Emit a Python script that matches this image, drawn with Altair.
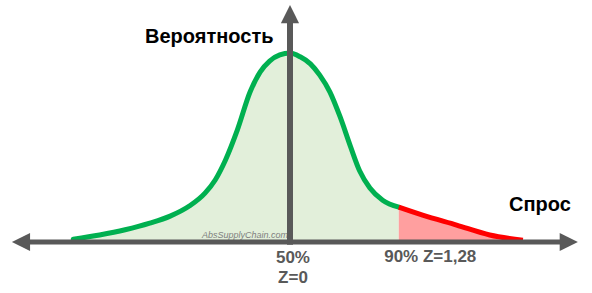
import altair as alt
import pandas as pd

# Curve: Z-score vs relative probability density
z_vals = [-2.55, -2.24, -1.94, -1.65, -1.41, -1.18, -1.00, -0.88, -0.76, -0.62,
          -0.47, -0.35, -0.24, -0.12, 0.0, 0.12, 0.24, 0.35, 0.47, 0.59,
          0.71, 0.82, 0.94, 1.09, 1.28, 1.56, 1.96, 2.35, 2.74]
dens = [0.006, 0.015, 0.026, 0.040, 0.055, 0.077, 0.104, 0.132, 0.174, 0.238,
        0.319, 0.362, 0.385, 0.398, 0.402, 0.394, 0.379, 0.355, 0.319, 0.266,
        0.204, 0.151, 0.115, 0.089, 0.074, 0.057, 0.036, 0.015, 0.004]
z_cut = 1.28

# Annotations
label_text = ["Вероятность", "Спрос", "50%", "Z=0", "90% Z=1,28"]
label_z = [-0.95, 2.94, 0.035, 0.035, 1.65]
label_v = [0.436, 0.079, -0.034, -0.077, -0.032]
label_size = [20, 20, 17, 17, 17]
label_color = ["#000000", "#000000", "#595959", "#595959", "#595959"]

df = pd.DataFrame({"z": z_vals, "v": dens})
df_green = df[df.z <= z_cut]
df_red = df[df.z >= z_cut]

xs = alt.Scale(domain=[-290 / 85, 302 / 85], nice=False, zero=False)
ys = alt.Scale(domain=[-51 / 470, 242 / 470], nice=False, zero=False)
X = lambda f="z": alt.X(f"{f}:Q", scale=xs, axis=None)
Y = lambda f="v": alt.Y(f"{f}:Q", scale=ys, axis=None)

AX = "#595959"

green_area = alt.Chart(df_green).mark_area(color="#E2EFDA", opacity=1, interpolate="monotone").encode(
    x=X(), y=Y(), y2=alt.datum(0))
red_area = alt.Chart(df_red).mark_area(color="#FF9F9F", opacity=1, interpolate="monotone").encode(
    x=X(), y=Y(), y2=alt.datum(0))
green_line = alt.Chart(df_green).mark_line(color="#00B050", strokeWidth=5,
                                          interpolate="monotone", strokeCap="round").encode(x=X(), y=Y())
red_line = alt.Chart(df_red).mark_line(color="#FF0000", strokeWidth=5,
                                      interpolate="monotone", strokeCap="butt").encode(x=X(), y=Y())

h_axis = alt.Chart(pd.DataFrame({"a": [-3.06], "b": [3.2], "y": [0.0]})).mark_rule(
    color=AX, strokeWidth=5).encode(x=X("a"), x2="b", y=Y("y"))
v_axis = alt.Chart(pd.DataFrame({"x": [0.0], "a": [-0.006], "b": [0.468]})).mark_rule(
    color=AX, strokeWidth=6).encode(x=X("x"), y=Y("a"), y2="b")

arrows = pd.DataFrame({
    "x": [-3.165, 3.28, 0.0],
    "y": [0.0, 0.0, 0.485],
    "shape": ["M-1,0L1,-1L1,1Z", "M1,0L-1,-1L-1,1Z", "M0,-1L-1,1L1,1Z"],
})
arrow_marks = alt.Chart(arrows).mark_point(filled=True, opacity=1, color=AX, size=330, strokeWidth=0).encode(
    x=X("x"), y=Y("y"), shape=alt.Shape("shape:N", scale=None))

lab = pd.DataFrame({"t": label_text, "x": label_z, "y": label_v, "s": label_size, "c": label_color})
labels = alt.Chart(lab).mark_text(font="Liberation Sans", fontWeight="bold", align="center",
                                  baseline="middle").encode(
    x=X("x"), y=Y("y"), text="t:N", size=alt.Size("s:Q", scale=None), color=alt.Color("c:N", scale=None))

wm = alt.Chart(pd.DataFrame({"t": ["AbsSupplyChain.com"], "x": [-0.024], "y": [0.015]})).mark_text(
    font="Liberation Sans", fontStyle="italic", fontSize=9, color="#7F7F7F", align="right",
    baseline="middle").encode(x=X("x"), y=Y("y"), text="t:N")

chart = alt.layer(green_area, red_area, wm, green_line, red_line, h_axis, v_axis, arrow_marks, labels).properties(
    width=592, height=293, autosize=alt.AutoSizeParams(type="none"), padding=0,
    background="white").configure_view(stroke=None)

chart.save("out.html", embed_options={"renderer": "svg", "actions": False})
